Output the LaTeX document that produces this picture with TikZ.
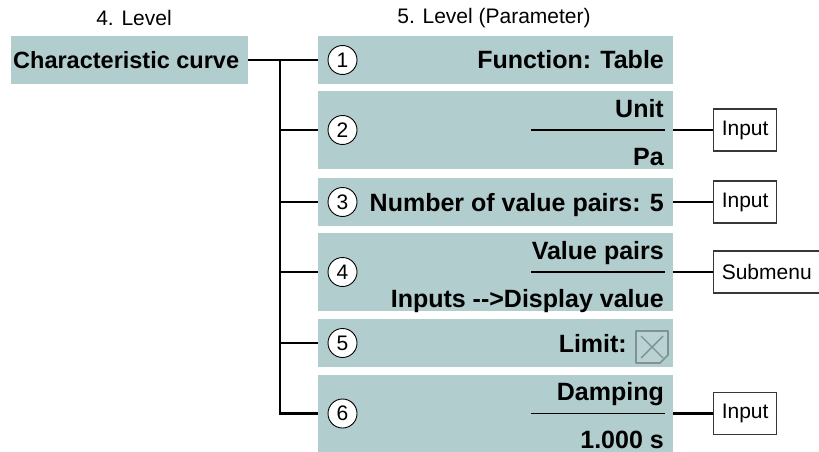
\documentclass[tikz,border=0pt]{standalone}
\usepackage{fontspec}
\setmainfont{Liberation Sans}
\usetikzlibrary{positioning, calc}
\usepackage{xcolor}
\definecolor{slate}{RGB}{178,205,206}
\definecolor{boxline}{RGB}{55,55,55}
\definecolor{tickgrey}{RGB}{125,146,146}
\definecolor{tickfill}{RGB}{186,210,211}

\begin{document}
\begin{tikzpicture}[x=1pt, y=-1pt, font=\fontsize{21}{25}\selectfont,
    param/.style={fill=slate, minimum width=355pt, inner sep=0pt},
    label/.style={font=\bfseries\fontsize{25}{29}\selectfont, anchor=base east, inner sep=0pt},
    num/.style={circle, draw, fill=white, line width=0.9pt, minimum size=29pt,
                inner sep=0pt, font=\fontsize{21}{21}\selectfont},
    link/.style={line width=2.4pt},
    rule/.style={line width=1.4pt},
    leaf/.style={draw=boxline, line width=1.2pt, fill=white, minimum height=42pt,
                 inner xsep=8pt}]
  \useasboundingbox (0,0) rectangle (819,452);
  % level headings
  \node (h4) at (134,18) {4. Level};
  \node (h5) at (494,18) {5. Level (Parameter)};
  % level 4 entry
  \node[fill=slate, minimum width=237pt, minimum height=48pt, inner sep=0pt] (curve) at (129.5,60) {};
  \node[label, anchor=base west, font=\bfseries\fontsize{23.5}{28}\selectfont] at (13,69) {Characteristic curve};
  % level 5 parameter boxes
  \node[param, minimum height=48pt] (p1) at (495.5,60) {};
  \node[param, minimum height=78pt] (p2) at (495.5,130) {};
  \node[param, minimum height=48pt] (p3) at (495.5,202) {};
  \node[param, minimum height=78pt] (p4) at (495.5,272) {};
  \node[param, minimum height=48pt] (p5) at (495.5,343) {};
  \node[param, minimum height=77pt] (p6) at (495.5,413.5) {};
  % numbers
  \node[num] (n1) at (342.5,60) {1};
  \node[num] (n2) at (342.5,130) {2};
  \node[num] (n3) at (342.5,202) {3};
  \node[num] (n4) at (342.5,272) {4};
  \node[num] (n5) at (342.5,343) {5};
  \node[num] (n6) at (342.5,413.5) {6};
  % texts
  \node[label] at (664,69) {Function: Table};
  \node[label] at (664,117) {Unit};
  \draw[rule] (531,130) -- (665,130);
  \node[label] at (664,165) {Pa};
  \node[label] at (664,211) {Number of value pairs: 5};
  \node[label] at (664,259) {Value pairs};
  \draw[rule] (531,272) -- (665,272);
  \node[label] at (664,307) {Inputs -{}->Display value};
  \node[label] at (627,352) {Limit:};
  \node[label] at (664,400) {Damping};
  \draw[rule] (531,413.5) -- (665,413.5);
  \node[label] at (664,448) {1.000 s};
  % unchecked box
  \draw[tickgrey, fill=tickfill, line width=1.6pt, line join=round]
    (636,331) -- (668,331) -- (668,355) -- (660,363) -- (636,363) -- cycle;
  \draw[tickgrey, line width=1.4pt] (641,336) -- (663,358) (641,358) -- (663,336);
  % tree connectors
  \coordinate (tr) at (280,60);
  \draw[link] (curve) -- (p1);
  \foreach \i in {2,...,6}
    \draw[link] (tr) |- (p\i.west);
  % follow-up actions
  \node[leaf, right=40pt of p2] (in2) {Input};
  \node[leaf, right=40pt of p3] (in3) {Input};
  \node[leaf, right=40pt of p4] (sub4) {Submenu};
  \node[leaf, right=40pt of p6] (in6) {Input};
  \draw[link] (p2) -- (in2);
  \draw[link] (p3) -- (in3);
  \draw[link] (p4) -- (sub4);
  \draw[link] (p6) -- (in6);
\end{tikzpicture}
\end{document}
